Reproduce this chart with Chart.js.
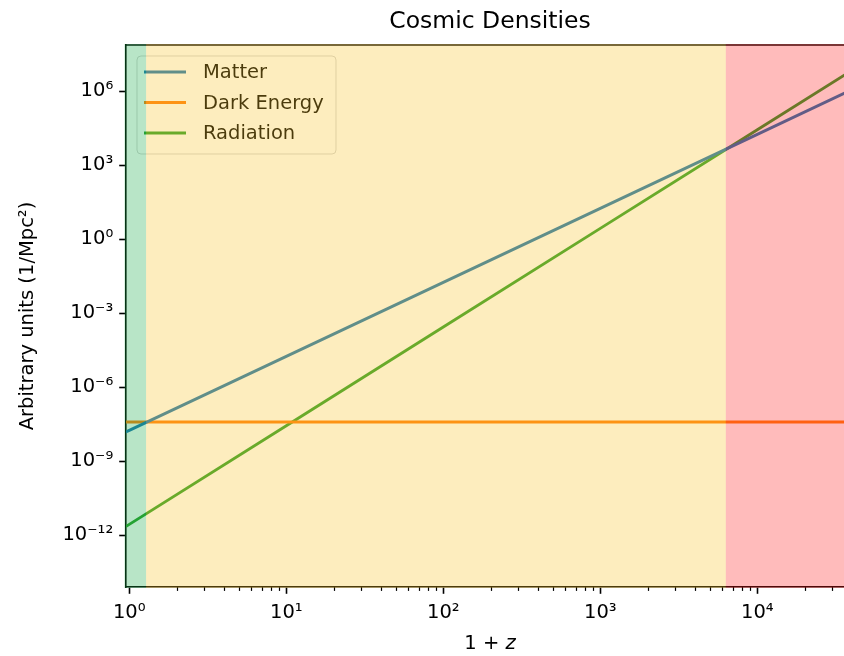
<!DOCTYPE html>
<html>
<head>
<meta charset="utf-8">
<script src="https://cdn.jsdelivr.net/npm/chart.js@4.4.0/dist/chart.umd.min.js"></script>
<style>
  html, body { margin: 0; padding: 0; background: #fff; overflow: hidden; }
</style>
</head>
<body>
<canvas id="cosmicDensitiesCanvas" width="844" height="656"></canvas>
<script>
// Values (log-log, so straight lines)
const redshiftFactor = [0.95, 1, 10, 100, 1000, 10000, 36000]; // 1 + z
const matterDensity = [1.5e-8, 1.75e-8, 1.75e-5, 1.75e-2, 17.5, 1.75e4, 8.2e5];
const darkEnergyDensity = [3.8e-8, 3.8e-8, 3.8e-8, 3.8e-8, 3.8e-8, 3.8e-8, 3.8e-8];
const radiationDensity = [2.2e-12, 2.7e-12, 2.7e-8, 2.7e-4, 2.7, 2.7e4, 4.5e6];
const seriesNames = ["Matter", "Dark Energy", "Radiation"];

const xTickValues = [1, 10, 100, 1000, 10000];
const xTickLabels = ["10⁰", "10¹", "10²", "10³", "10⁴"];
const yTickValues = [1e6, 1e3, 1, 1e-3, 1e-6, 1e-9, 1e-12];
const yTickLabels = ["10⁶", "10³", "10⁰", "10⁻³", "10⁻⁶", "10⁻⁹", "10⁻¹²"];

// era boundaries in 1 + z (dark energy / matter, matter / radiation)
const eraEdges = [1.28, 6300];

const lineColors = ["#1f77b4", "#ff7f0e", "#2ca02c"];
const eraColors = ["rgba(20,170,70,0.3)", "rgba(250,195,40,0.3)", "rgba(255,30,30,0.3)"];

const FONT = "DejaVu Sans";
const FS = 19.5;
Chart.defaults.font.family = FONT;
Chart.defaults.color = "#000";

function toPoints(ys) {
  return redshiftFactor.map((x, i) => ({ x: x, y: ys[i] }));
}

// minor ticks, top spine, legend, era shading, titles
const decorPlugin = {
  id: "decor",
  afterDraw(chart) {
    const c = chart.ctx;
    const area = chart.chartArea;
    const xs = chart.scales.x;

    c.save();
    // minor x ticks
    c.strokeStyle = "#000";
    c.lineWidth = 1.2;
    for (let n = -1; n <= 4; n++) {
      for (let k = 2; k <= 9; k++) {
        const v = k * Math.pow(10, n);
        if (v < xs.min || v > xs.max) continue;
        const px = Math.round(xs.getPixelForValue(v)) + 0.5;
        c.beginPath();
        c.moveTo(px, area.bottom);
        c.lineTo(px, area.bottom + 3.9);
        c.stroke();
      }
    }
    // top spine
    c.lineWidth = 1.6;
    c.beginPath();
    c.moveTo(area.left, area.top);
    c.lineTo(area.right, area.top);
    c.stroke();

    // legend inside the axes
    const lx = 137, ly = 56, lw = 199, lh = 98;
    c.beginPath();
    c.roundRect(lx, ly, lw, lh, 4);
    c.fillStyle = "rgba(255,255,255,0.8)";
    c.fill();
    c.strokeStyle = "rgba(204,204,204,0.8)";
    c.lineWidth = 1;
    c.stroke();
    c.font = FS + "px '" + FONT + "'";
    c.textBaseline = "middle";
    c.textAlign = "left";
    seriesNames.forEach((name, i) => {
      const y = 72 + i * 30.5;
      c.strokeStyle = lineColors[i];
      c.lineWidth = 2.9;
      c.beginPath();
      c.moveTo(144, y);
      c.lineTo(186, y);
      c.stroke();
      c.fillStyle = "#000";
      c.fillText(name, 203, y + 1);
    });

    // era shading drawn over everything inside the axes
    const edges = [xs.min].concat(eraEdges, [xs.max]);
    for (let i = 0; i < eraColors.length; i++) {
      const x0 = i === 0 ? area.left - 1.5 : xs.getPixelForValue(edges[i]);
      const x1 = i === eraColors.length - 1 ? area.right : xs.getPixelForValue(edges[i + 1]);
      c.fillStyle = eraColors[i];
      c.fillRect(x0, area.top - 1, x1 - x0, area.bottom - area.top + 2);
    }

    // figure title
    c.fillStyle = "#000";
    c.textAlign = "center";
    c.font = "23.5px '" + FONT + "'";
    c.fillText("Cosmic Densities", 490, 22);

    // x axis label: 1 + z (z italic)
    const a = "1 + ";
    c.font = FS + "px '" + FONT + "'";
    const wa = c.measureText(a).width;
    c.font = "oblique " + FS + "px '" + FONT + "'";
    const wz = c.measureText("z").width;
    const start = 490 - (wa + wz) / 2;
    c.textAlign = "left";
    c.font = FS + "px '" + FONT + "'";
    c.fillText(a, start, 644);
    c.font = "oblique " + FS + "px '" + FONT + "'";
    c.fillText("z", start + wa, 644);
    c.restore();
  }
};

const ctx = document.getElementById("cosmicDensitiesCanvas").getContext("2d");
const densityChart = new Chart(ctx, {
  type: "line",
  data: {
    datasets: [
      { label: seriesNames[0], data: toPoints(matterDensity), borderColor: lineColors[0] },
      { label: seriesNames[1], data: toPoints(darkEnergyDensity), borderColor: lineColors[1] },
      { label: seriesNames[2], data: toPoints(radiationDensity), borderColor: lineColors[2] },
    ],
  },
  options: {
    responsive: false,
    animation: false,
    devicePixelRatio: 1,
    layout: { padding: { top: 45, right: 0, left: 0, bottom: 0 } },
    elements: {
      line: { borderWidth: 2.9, tension: 0, fill: false },
      point: { radius: 0, hoverRadius: 0 },
    },
    plugins: {
      legend: { display: false },
      title: { display: false },
      tooltip: { enabled: false },
    },
    scales: {
      x: {
        type: "logarithmic",
        min: 0.953,
        max: 35650,
        afterBuildTicks: (scale) => {
          scale.ticks = xTickValues.map((v) => ({ value: v }));
        },
        afterFit: (scale) => { scale.height = 69; },
        ticks: {
          autoSkip: false,
          maxRotation: 0,
          padding: 7,
          font: { size: FS },
          callback: (value, index) => xTickLabels[index],
        },
        grid: { drawOnChartArea: false, tickLength: 6.8, tickWidth: 1.6, tickColor: "#000" },
        border: { display: true, color: "#000", width: 1.6 },
      },
      y: {
        type: "logarithmic",
        min: 7.8e-15,
        max: 7.33e7,
        afterBuildTicks: (scale) => {
          scale.ticks = yTickValues.map((v) => ({ value: v }));
        },
        afterFit: (scale) => { scale.width = 126; },
        ticks: {
          autoSkip: false,
          padding: 6,
          font: { size: FS },
          callback: (value, index) => yTickLabels[index],
        },
        grid: { drawOnChartArea: false, tickLength: 6.8, tickWidth: 1.6, tickColor: "#000" },
        border: { display: true, color: "#000", width: 1.6 },
        title: {
          display: true,
          text: "Arbitrary units (1/Mpc²)",
          font: { size: FS },
          padding: { top: 16, bottom: 0 },
        },
      },
    },
  },
  plugins: [decorPlugin],
});
</script>
</body>
</html>
